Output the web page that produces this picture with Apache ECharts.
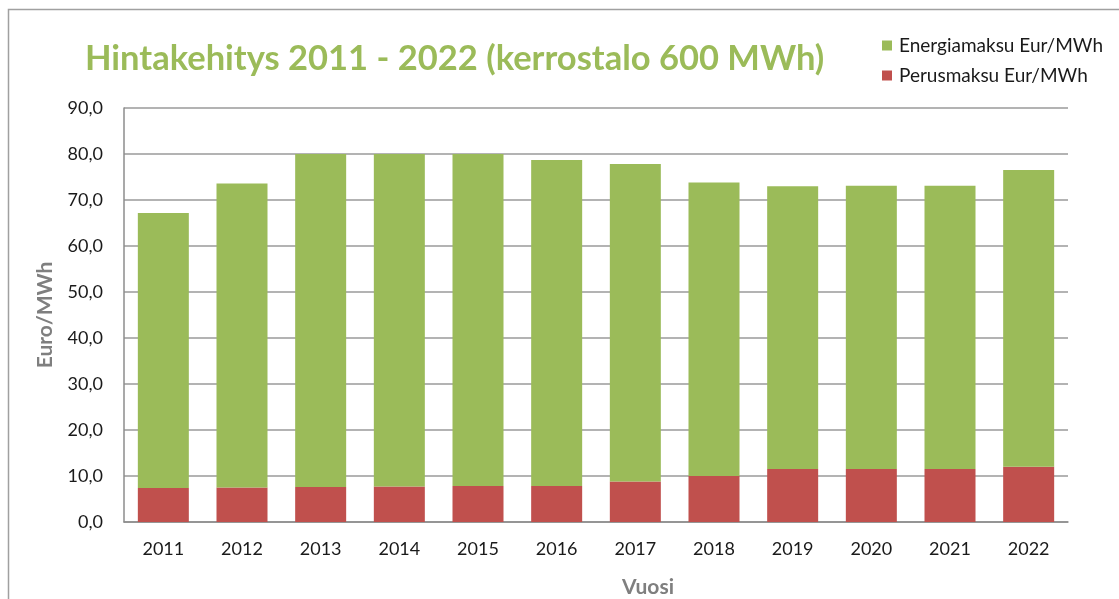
<!DOCTYPE html>
<html>
<head>
<meta charset="utf-8">
<script src="https://cdn.jsdelivr.net/npm/echarts@6/dist/echarts.min.js"></script>
<style>html,body{margin:0;padding:0;background:#fff;}#c{width:1119px;height:599px;}</style>
</head>
<body>
<div id="c"></div>
<script>
const years = ['2011','2012','2013','2014','2015','2016','2017','2018','2019','2020','2021','2022'];
const perusmaksu = [7.4, 7.5, 7.6, 7.7, 7.8, 7.8, 8.8, 10.0, 11.5, 11.5, 11.5, 12.0];
const energiamaksu = [59.8, 66.1, 72.4, 72.3, 72.2, 70.9, 69.0, 63.8, 61.5, 61.6, 61.6, 64.5];
const seriesNames = ['Energiamaksu Eur/MWh', 'Perusmaksu Eur/MWh'];
const titleText = 'Hintakehitys 2011 - 2022 (kerrostalo 600 MWh)';

const chart = echarts.init(document.getElementById('c'));
const font = 'Lato';
chart.setOption({
  animation: false,
  backgroundColor: '#fff',
  textStyle: { fontFamily: font },
  title: {
    text: titleText,
    left: 80, top: 36,
    textStyle: { color: '#9BBB59', fontSize: 34.5, fontWeight: 'bold', fontFamily: font }
  },
  legend: {
    data: seriesNames,
    orient: 'vertical',
    left: 877, top: 31,
    icon: 'rect', itemWidth: 10, itemHeight: 10, itemGap: 11,
    textStyle: { color: '#1a1a1a', fontSize: 19, fontFamily: font, padding: [0,0,0,2] }
  },
  graphic: [{
    type: 'rect', shape: { x: 8.5, y: 9.5, width: 1200, height: 700 },
    style: { fill: 'none', stroke: '#a0a0a0', lineWidth: 1.5 }, silent: true
  }],
  grid: { left: 124, right: 51, top: 108, bottom: 77, containLabel: false, outerBoundsMode: 'none' },
  xAxis: {
    type: 'category', data: years,
    name: 'Vuosi', nameLocation: 'middle', nameGap: 55,
    nameTextStyle: { color: '#7f7f7f', fontSize: 21, fontWeight: 'bold', padding: [0,0,0,104], fontFamily: font },
    axisLine: { lineStyle: { color: '#8c8c8c', width: 1.5 } },
    axisTick: { show: false },
    axisLabel: { color: '#1a1a1a', fontSize: 18, margin: 18, fontFamily: font }
  },
  yAxis: {
    type: 'value', min: 0, max: 90, interval: 10,
    name: 'Euro/MWh', nameLocation: 'middle', nameGap: 68,
    nameTextStyle: { color: '#7f7f7f', fontSize: 21, fontWeight: 'bold', fontFamily: font },
    axisLine: { show: true, lineStyle: { color: '#8c8c8c', width: 1.5 } },
    axisTick: { show: false },
    splitLine: { lineStyle: { color: '#9a9a9a', width: 1.5 } },
    axisLabel: { color: '#1a1a1a', fontSize: 18, margin: 21, fontFamily: font,
      formatter: v => v.toFixed(1).replace('.', ',') }
  },
  series: [
    { name: seriesNames[1], type: 'bar', stack: 't', data: perusmaksu, barWidth: 51,
      itemStyle: { color: '#C0504D' } },
    { name: seriesNames[0], type: 'bar', stack: 't', data: energiamaksu, barWidth: 51,
      itemStyle: { color: '#9BBB59' } }
  ]
});
</script>
</body>
</html>
